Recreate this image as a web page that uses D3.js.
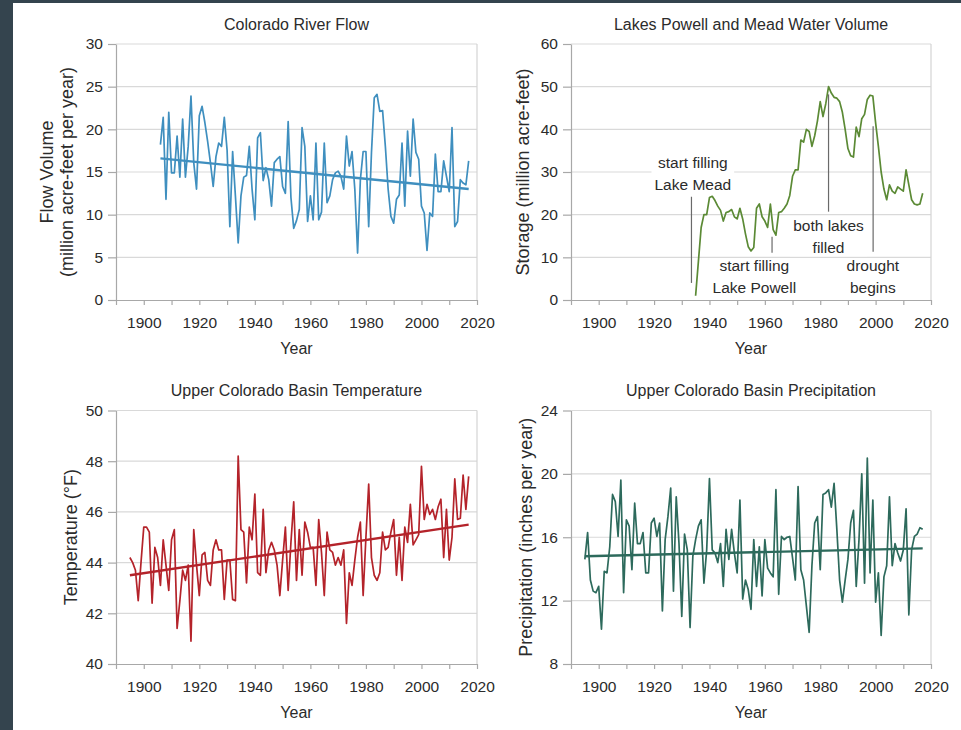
<!DOCTYPE html>
<meta charset="utf-8">
<style>
  body { margin: 0; background: #34444e; }
  text { font-family: "Liberation Sans", Arial, sans-serif; fill: #2b2b2b; }
</style>
<div id="my_dataviz"></div>
<script src="https://d3js.org/d3.v7.min.js"></script>
<script>

// ---- data ----
var flowStart = 1906;
var flowValues = [
  18.2, 21.4, 11.8, 22.0, 14.9, 14.9, 19.2, 14.4, 21.2, 14.4,
  18.0, 23.9, 16.1, 13.0, 21.6, 22.7, 20.8, 18.6, 16.1, 13.3,
  16.8, 18.4, 18.0, 21.4, 17.6, 8.6, 17.4, 12.2, 6.7, 12.2,
  14.4, 14.6, 18.0, 13.0, 9.4, 19.0, 19.6, 14.0, 15.5, 14.1,
  11.0, 16.1, 16.5, 16.8, 13.3, 12.5, 20.9, 12.0, 8.4, 9.3,
  10.6, 20.2, 18.0, 9.2, 12.2, 9.4, 18.4, 9.4, 10.3, 18.4,
  11.4, 12.2, 14.1, 14.9, 15.1, 14.5, 13.0, 19.2, 15.7, 17.4,
  13.0, 5.5, 14.1, 17.4, 17.4, 8.6, 17.3, 23.7, 24.1, 22.1,
  22.2, 18.0, 13.0, 9.8, 9.0, 11.8, 12.3, 18.4, 11.0, 19.8,
  14.5, 21.2, 17.3, 16.5, 11.0, 10.2, 5.8, 10.2, 9.8, 17.1,
  12.7, 12.7, 16.3, 14.5, 12.7, 20.2, 8.6, 9.2, 14.1, 13.7,
  13.5, 16.3
];
var flowTrend = [[1906, 16.6], [2017, 13.0]];

var storageStart = 1935;
var storageValues = [
  1, 9, 17, 20, 20, 24, 24.3, 23.3, 22, 21,
  18.5, 20.5, 20.7, 21.2, 19.5, 19, 21.5, 19, 15.5, 12.5,
  11.5, 12.3, 21.5, 22.5, 19.5, 18.5, 17, 22.5, 16.5, 15.2,
  20.5, 20.7, 21.5, 22.5, 24.5, 29, 30.5, 30.5, 37.5, 37,
  40, 39.5, 36, 38.5, 42, 46.5, 43, 46, 50, 48.5,
  47.5, 47.3, 46.5, 44, 40, 35.5, 33.8, 33.5, 40.5, 38.3,
  42.5, 43.5, 47, 48, 47.8, 41.5, 36, 30, 26, 23.5,
  27, 25.5, 25, 26.5, 26, 25.5, 30.5, 27, 23.5, 22.5,
  22.3, 22.5, 25
];
// annotations: label centre (year, value), leader line year and value span
var storageNotes = [
  {lines: ["start filling", "Lake Mead"], year: 1934, value: 29.6, lineYear: 1933.5, from: 24.2, to: 4.0},
  {lines: ["start filling", "Lake Powell"], year: 1956.2, value: 5.6, lineYear: 1962.6, from: 14.8, to: 11.1},
  {lines: ["both lakes", "filled"], year: 1983, value: 14.8, lineYear: 1983, from: 48.2, to: 20.7},
  {lines: ["drought", "begins"], year: 1999, value: 5.6, lineYear: 1999.1, from: 40.7, to: 11.3}
];

var tempStart = 1895;
var tempValues = [
  44.2, 44.0, 43.7, 42.5, 44.0, 45.4, 45.4, 45.2, 42.4, 44.6,
  44.2, 43.1, 44.9, 43.9, 42.9, 44.9, 45.3, 41.4, 42.5, 43.7,
  43.3, 43.9, 40.9, 45.3, 43.9, 42.7, 44.3, 44.4, 43.3, 43.1,
  44.5, 44.9, 44.5, 44.5, 42.55, 44.1, 44.1, 42.55, 42.5, 48.2,
  45.3, 45.2, 43.2, 45.4, 44.9, 46.7, 43.6, 43.5, 46.1, 43.6,
  44.5, 44.8, 44.5, 43.9, 42.7, 44.1, 45.4, 42.9, 44.8, 46.4,
  43.3, 45.3, 43.5, 45.6, 45.2, 44.6, 44.6, 43.1, 45.7, 44.4,
  42.7, 45.2, 44.5, 44.4, 43.9, 44.2, 43.9, 44.5, 41.6, 43.6,
  43.1, 44.1, 45.0, 45.6, 42.7, 45.0, 47.1, 44.2, 43.5, 43.3,
  43.6, 45.2, 44.5, 44.6, 45.2, 45.7, 43.5, 45.0, 43.3, 45.4,
  44.8, 46.3, 44.7, 44.9, 45.1, 47.8, 45.7, 46.3, 45.9, 46.1,
  45.7, 46.2, 46.5, 44.2, 46.1, 44.1, 45.0, 47.3, 45.7, 45.75,
  47.45, 46.1, 47.4
];
var tempTrend = [[1895, 43.5], [2017, 45.5]];

var precipStart = 1895;
var precipValues = [
  14.6, 16.3, 13.3, 12.6, 12.5, 12.9, 10.2, 13.85, 13.75, 15.4,
  18.7, 18.25, 16.05, 19.6, 12.5, 17.1, 16.7, 13.95, 18.15, 15.6,
  15.6, 16.3, 13.75, 13.75, 16.9, 17.2, 16.05, 16.9, 11.35, 15.85,
  17.3, 19.1, 12.6, 18.55, 15.6, 11.0, 16.2, 15.2, 10.3, 14.8,
  15.85, 16.7, 17.1, 13.1, 15.2, 19.7, 15.2, 15.0, 14.4, 15.6,
  12.9, 16.5, 14.6, 16.5, 15.0, 13.75, 18.35, 12.1, 13.3, 12.7,
  11.45, 15.85, 12.9, 15.4, 12.3, 15.85, 14.05, 13.75, 13.5, 19.0,
  12.4, 16.05, 15.85, 16.0, 16.05, 14.7, 13.3, 19.2, 13.95, 13.3,
  11.65, 10.0, 14.2, 16.9, 17.3, 13.95, 18.7, 18.8, 19.0, 17.9,
  19.4, 16.5, 13.3, 11.9, 13.3, 14.6, 16.9, 17.7, 12.9, 15.85,
  20.0, 13.1, 21.0, 13.75, 18.35, 11.9, 13.75, 9.8, 13.5, 14.2,
  18.55, 14.2, 15.6, 15.0, 14.5, 15.2, 17.8, 11.1, 15.2, 16.05,
  16.2, 16.6, 16.5
];
var precipTrend = [[1895, 14.8], [2017, 15.3]];

var flowTicks = [0, 5, 10, 15, 20, 25, 30];
var storageTicks = [0, 10, 20, 30, 40, 50, 60];
var tempTicks = [40, 42, 44, 46, 48, 50];
var precipTicks = [8, 12, 16, 20, 24];
var yearDomain = [1890, 2020];
var decadeTicks = d3.range(1890, 2021, 10);
var yearLabels = [1900, 1920, 1940, 1960, 1980, 2000, 2020];

function series(start, values) {
  return values.map(function(v, i) { return {year: start + i, value: v}; });
}

var svg = d3.select("#my_dataviz")
  .append("svg")
  .attr("width", 961)
  .attr("height", 730)
  .style("display", "block");

svg.append("rect").attr("width", 961).attr("height", 730).attr("fill", "#34444e");
svg.append("rect").attr("x", 13).attr("y", 3).attr("width", 948).attr("height", 727).attr("fill", "#ffffff");

function drawPanel(p) {
  var x = d3.scaleLinear().domain(yearDomain).range([p.left, p.right]);
  var y = d3.scaleLinear().domain([p.ticks[0], p.ticks[p.ticks.length - 1]]).range([p.bottom, p.top]);
  var g = svg.append("g");

  // gridlines
  g.selectAll(".grid")
    .data(p.ticks.slice(1))
    .enter().append("line")
      .attr("x1", p.left).attr("x2", p.right)
      .attr("y1", function(d) { return y(d); })
      .attr("y2", function(d) { return y(d); })
      .attr("stroke", "#d9d9d9")
      .attr("stroke-width", 1.2);
  g.append("line")
    .attr("x1", p.right).attr("x2", p.right)
    .attr("y1", p.top).attr("y2", p.bottom)
    .attr("stroke", "#d4d4d4").attr("stroke-width", 1.2);

  // y axis
  var ya = g.append("g")
    .attr("transform", "translate(" + p.left + ",0)")
    .call(d3.axisLeft(y).tickValues(p.ticks).tickSize(8).tickSizeOuter(0).tickPadding(5));
  ya.selectAll("text").style("font-size", "15.5px").style("fill", "#2b2b2b");

  // x axis
  var xa = g.append("g")
    .attr("transform", "translate(0," + p.bottom + ")")
    .call(d3.axisBottom(x).tickValues(decadeTicks).tickSize(5).tickSizeOuter(0).tickPadding(12)
      .tickFormat(function(d) { return yearLabels.indexOf(d) >= 0 ? d : ""; }));
  xa.selectAll("text").style("font-size", "15.5px").style("fill", "#2b2b2b");

  [ya, xa].forEach(function(a) {
    a.select(".domain").attr("stroke", "#a8a8a8").attr("stroke-width", 1.2);
    a.selectAll(".tick line").attr("stroke", "#a8a8a8").attr("stroke-width", 1.2);
  });

  // annotations (boxes first so gridlines are cut)
  var notes = g.append("g");
  (p.notes || []).forEach(function(n) {
    var t = notes.append("text")
      .attr("text-anchor", "middle")
      .style("font-size", "15.5px");
    n.lines.forEach(function(l, i) {
      t.append("tspan")
        .attr("x", x(n.year))
        .attr("y", y(n.value) + (i - (n.lines.length - 1) / 2) * 22)
        .attr("dy", "0.35em")
        .text(l);
    });
    var b = t.node().getBBox();
    notes.insert("rect", "text")
      .attr("x", b.x - 3).attr("y", b.y + 2)
      .attr("width", b.width + 6).attr("height", b.height - 2)
      .attr("fill", "#ffffff");
  });

  // data line
  var line = d3.line()
    .x(function(d) { return x(d.year); })
    .y(function(d) { return y(d.value); });
  g.append("path")
    .datum(p.data)
    .attr("d", line)
    .attr("fill", "none")
    .attr("stroke", p.color)
    .attr("stroke-width", 1.7)
    .attr("stroke-linejoin", "round");

  if (p.trend) {
    g.append("path")
      .datum(p.trend.map(function(d) { return {year: d[0], value: d[1]}; }))
      .attr("d", line)
      .attr("fill", "none")
      .attr("stroke", p.color)
      .attr("stroke-width", 2.4);
  }

  // leader lines
  (p.notes || []).forEach(function(n) {
    g.append("line")
      .attr("x1", x(n.lineYear)).attr("x2", x(n.lineYear))
      .attr("y1", y(n.from)).attr("y2", y(n.to))
      .attr("stroke", "#6a6a6a").attr("stroke-width", 1.2);
  });
  notes.raise();

  // titles
  g.append("text")
    .attr("x", (p.left + p.right) / 2)
    .attr("y", p.top - 20)
    .attr("dy", "0.35em")
    .attr("text-anchor", "middle")
    .style("font-size", "16px")
    .text(p.title);

  g.append("text")
    .attr("x", (p.left + p.right) / 2)
    .attr("y", p.bottom + 48)
    .attr("dy", "0.35em")
    .attr("text-anchor", "middle")
    .style("font-size", "16px")
    .text("Year");

  var yt = g.append("text")
    .attr("transform", "translate(" + p.yTitleX + "," + ((p.top + p.bottom) / 2) + ") rotate(-90)")
    .attr("text-anchor", "middle")
    .style("font-size", "18px");
  p.yTitle.forEach(function(l, i) {
    yt.append("tspan")
      .attr("x", 0)
      .attr("y", (i - (p.yTitle.length - 1) / 2) * 20)
      .attr("dy", "0.35em")
      .text(l);
  });
}

drawPanel({
  title: "Colorado River Flow",
  yTitle: ["Flow Volume", "(million acre-feet per year)"],
  yTitleX: 57,
  left: 116, right: 477, top: 44, bottom: 300,
  ticks: flowTicks,
  data: series(flowStart, flowValues),
  trend: flowTrend,
  color: "#3f8fbf"
});

drawPanel({
  title: "Lakes Powell and Mead Water Volume",
  yTitle: ["Storage (million acre-feet)"],
  yTitleX: 523,
  left: 571, right: 931, top: 44, bottom: 300,
  ticks: storageTicks,
  data: series(storageStart, storageValues),
  notes: storageNotes,
  color: "#5b8a35"
});

drawPanel({
  title: "Upper Colorado Basin Temperature",
  yTitle: ["Temperature (°F)"],
  yTitleX: 71,
  left: 116, right: 477, top: 410.5, bottom: 664,
  ticks: tempTicks,
  data: series(tempStart, tempValues),
  trend: tempTrend,
  color: "#b4232a"
});

drawPanel({
  title: "Upper Colorado Basin Precipitation",
  yTitle: ["Precipitation (inches per year)"],
  yTitleX: 526,
  left: 571, right: 931, top: 410.5, bottom: 664,
  ticks: precipTicks,
  data: series(precipStart, precipValues),
  trend: precipTrend,
  color: "#2d6a5c"
});

</script>
